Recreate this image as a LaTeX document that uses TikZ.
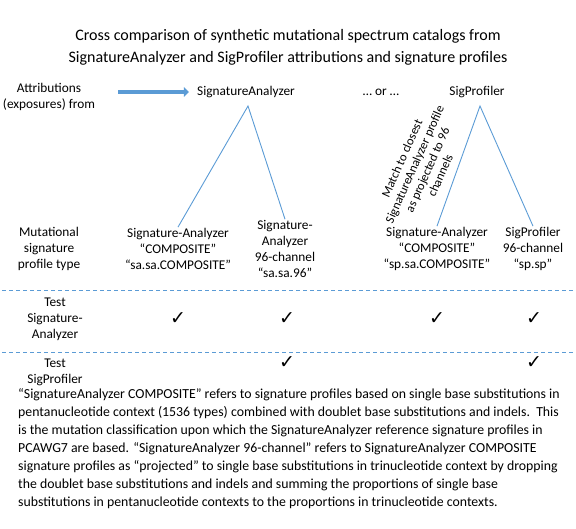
\documentclass[tikz,border=0pt]{standalone}
\usepackage{fontspec}
\setmainfont{Carlito}
\newfontfamily\symfont{DejaVu Sans}
\usetikzlibrary{arrows.meta}
\definecolor{lineblue}{RGB}{91,155,213}
\definecolor{edgeblue}{RGB}{65,113,156}
\begin{document}
\begin{tikzpicture}[x=1pt,y=-1pt,
  lab/.style={font=\fontsize{13.33}{16}\selectfont, align=center, inner sep=1pt},
  tri/.style={draw=lineblue, line width=0.9pt},
  sepline/.style={draw=lineblue, line width=0.9pt, dash pattern=on 4pt off 3pt},
  chk/.style={font=\symfont\fontsize{19}{19}\selectfont, inner sep=0pt},
  blockarrow/.style={draw=lineblue, line width=4.5pt, -{Triangle[length=5pt,width=9.5pt]}}
]
\useasboundingbox (0,0) rectangle (576,528);
\node[font=\fontsize{16}{22}\selectfont, align=center] (title) at (288,47)
  {Cross comparison of synthetic mutational spectrum catalogs from\\SignatureAnalyzer and SigProfiler attributions and signature profiles};
\node[lab] (attr) at (49,97) {Attributions\\(exposures) from};
\node[lab] (sa) at (246,92) {SignatureAnalyzer};
\node[lab] (or) at (381,92) {… or …};
\node[lab] (sp) at (477,92) {SigProfiler};
\draw[blockarrow, shorten <=22pt, shorten >=7pt] (attr.east |- sa.west) -- (sa.west);
\coordinate (apexL) at (248,106);
\coordinate (apexR) at (480,106);
\node[lab] (ptype) at (49,249) {Mutational\\signature\\profile type};
\node[lab] (cA) at (178,249) {Signature-Analyzer\\“COMPOSITE”\\“sa.sa.COMPOSITE”};
\node[lab] (cB) at (285,249) {Signature-\\Analyzer\\96-channel\\“sa.sa.96”};
\node[lab] (cC) at (437,249) {Signature-Analyzer\\“COMPOSITE”\\“sp.sa.COMPOSITE”};
\node[lab] (cD) at (533,249) {SigProfiler\\96-channel\\“sp.sp”};
\draw[tri] (cA.north) -- (apexL) -- (cB.north);
\draw[tri] (cC.north) -- (apexR) -- (cD.north);
\node[font=\fontsize{12.5}{14}\selectfont, align=center, rotate=66, inner sep=0pt] (match) at (421,167)
  {Match to closest\\SignatureAnalyzer profile\\as projected to 96\\channels};
\coordinate (d1l) at (2,290);
\coordinate (d1r) at (573,290);
\coordinate (d2l) at (2,352);
\coordinate (d2r) at (573,352);
\draw[sepline] (d1l) -- (d1r);
\draw[sepline] (d2l) -- (d2r);
\node[lab] (tsa) at (55,319) {Test\\Signature-\\Analyzer};
\node[lab] (tsp) at (55,372) {Test\\SigProfiler};
\node[chk] (k1) at (178,319) {✓};
\node[chk] (k2) at (287,319) {✓};
\node[chk] (k3) at (437,319) {✓};
\node[chk] (k4) at (534,319) {✓};
\node[chk] (k5) at (287,363) {✓};
\node[chk] (k6) at (534,363) {✓};
\node[font=\fontsize{13.8}{18}\selectfont, align=left, anchor=north west, inner sep=0pt] (para) at (18,388)
  {“SignatureAnalyzer COMPOSITE” refers to signature profiles based on single base substitutions in\\
   pentanucleotide context (1536 types) combined with doublet base substitutions and indels.\ \ This\\
   is the mutation classification upon which the SignatureAnalyzer reference signature profiles in\\
   PCAWG7 are based. “SignatureAnalyzer 96-channel” refers to SignatureAnalyzer COMPOSITE\\
   signature profiles as “projected” to single base substitutions in trinucleotide context by dropping\\
   the doublet base substitutions and indels and summing the proportions of single base\\
   substitutions in pentanucleotide contexts to the proportions in trinucleotide contexts.};
\end{tikzpicture}
\end{document}
